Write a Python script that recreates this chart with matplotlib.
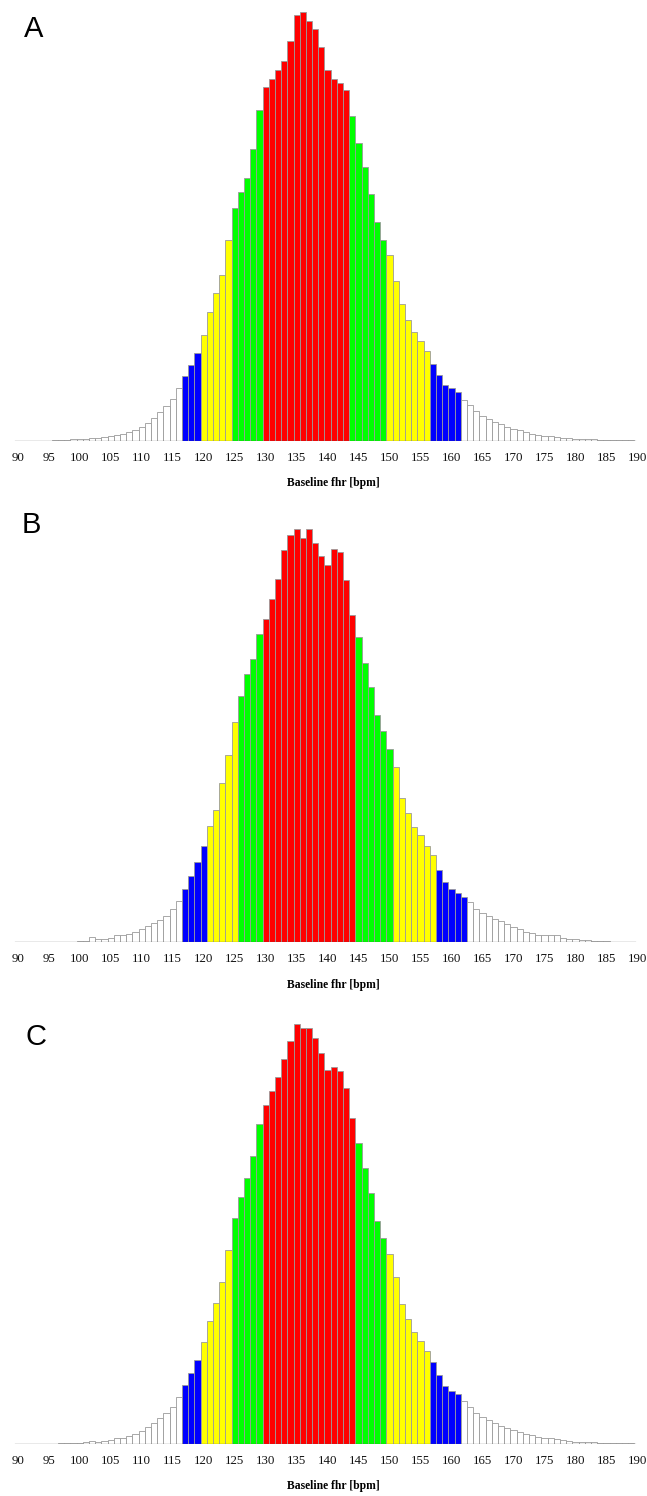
import numpy as np
import matplotlib
matplotlib.use("Agg")
import matplotlib.pyplot as plt

# baseline fhr classes 90..190 bpm
bpm = np.arange(90, 191)

# bar heights (arbitrary units)
freq_a = [0, 0, 0, 0, 0, 0, 1, 2, 3, 4,
          5, 6, 7, 9, 12, 14, 18, 21, 25, 32,
          40, 52, 67, 87, 105, 126, 157, 193, 226, 264,
          318, 386, 442, 496, 602, 697, 746, 789, 876, 992,
          1062, 1086, 1111, 1140, 1200, 1277, 1286, 1258, 1236, 1182,
          1113, 1084, 1072, 1052, 975, 894, 822, 741, 655, 602,
          558, 479, 409, 362, 325, 300, 269, 231, 197, 167,
          159, 145, 123, 106, 88, 74, 65, 56, 49, 42,
          36, 32, 25, 20, 17, 14, 13, 11, 9, 7,
          6, 6, 5, 4, 3, 3, 2, 2, 1, 1,
          0]
freq_b = [0, 0, 0, 0, 0, 1, 2, 2, 2, 2,
          3, 5, 16, 9, 10, 12, 21, 21, 24, 32,
          39, 49, 58, 67, 79, 99, 124, 161, 199, 240,
          288, 349, 396, 478, 561, 661, 738, 806, 850, 925,
          970, 1030, 1091, 1176, 1222, 1241, 1214, 1241, 1198, 1160,
          1131, 1181, 1170, 1087, 981, 915, 838, 767, 682, 635,
          579, 525, 434, 387, 345, 321, 289, 261, 217, 180,
          159, 149, 137, 122, 100, 87, 78, 70, 63, 54,
          47, 39, 32, 27, 22, 21, 21, 21, 12, 10,
          9, 7, 6, 5, 4, 3, 2, 2, 2, 1,
          0]
freq_c = [0, 0, 0, 0, 0, 0, 1, 2, 2, 3,
          4, 5, 10, 7, 10, 13, 19, 19, 25, 31,
          39, 51, 64, 77, 92, 111, 141, 177, 214, 252,
          305, 368, 422, 487, 582, 679, 742, 798, 865, 960,
          1018, 1060, 1101, 1156, 1210, 1260, 1249, 1249, 1218, 1172,
          1123, 1130, 1119, 1068, 978, 904, 829, 754, 668, 618,
          569, 502, 420, 375, 336, 310, 280, 246, 207, 174,
          159, 149, 129, 112, 93, 80, 71, 62, 55, 47,
          42, 37, 31, 27, 22, 19, 18, 16, 11, 8,
          7, 6, 5, 5, 4, 4, 3, 2, 2, 2,
          0]

# colour bands: (first bpm, last bpm, colour)
bands_a = [(117, 119, "blue"), (120, 124, "yellow"), (125, 129, "green"),
           (130, 143, "red"), (144, 149, "green"), (150, 156, "yellow"),
           (157, 161, "blue")]
bands_b = [(117, 120, "blue"), (121, 125, "yellow"), (126, 129, "green"),
           (130, 144, "red"), (145, 150, "green"), (151, 157, "yellow"),
           (158, 162, "blue")]
bands_c = [(117, 119, "blue"), (120, 124, "yellow"), (125, 129, "green"),
           (130, 144, "red"), (145, 149, "green"), (150, 156, "yellow"),
           (157, 161, "blue")]

panel_labels = ["A", "B", "C"]
tick_values = list(range(90, 191, 5))

palette = {"blue": "#0000ff", "yellow": "#ffff00", "green": "#00ff00",
           "red": "#ff0000"}

W, H = 647, 1496
fig = plt.figure(figsize=(W / 100, H / 100), dpi=100)

# (top px, baseline px, ylim top, letter x px, letter y px)
layout = [(0, 440.7, 1322, 34, 29),
          (500, 942.3, 1327, 31, 525),
          (1000, 1444, 1332, 36, 1037)]

for freq, bands, lab, (top, base, ytop, lx, ly) in zip(
        [freq_a, freq_b, freq_c], [bands_a, bands_b, bands_c],
        panel_labels, layout):
    ax = fig.add_axes([0, (H - base) / H, 1, (base - top) / H])
    colors = []
    for b in bpm:
        c = "white"
        for lo, hi, name in bands:
            if lo <= b <= hi:
                c = palette[name]
        colors.append(c)
    ax.bar(bpm, freq, width=1.0, color=colors, edgecolor="#9a9a9a",
           linewidth=0.6, zorder=2)
    ax.plot([89.5, 189.6], [0, 0], color="#555555", lw=0.9, zorder=3)
    ax.set_xlim(87.13, 191.55)
    ax.set_ylim(0, ytop)
    for s in ax.spines.values():
        s.set_visible(False)
    ax.set_yticks([])
    ax.set_xticks(tick_values)
    ax.set_xticklabels([str(t) for t in tick_values],
                       fontfamily="Liberation Serif", fontsize=9.3,
                       color="#111111")
    ax.tick_params(axis="x", length=0, pad=8)
    ax.annotate("Baseline fhr [bpm]", xy=(140.9, 0),
                xycoords=("data", "axes fraction"), xytext=(0, -30.5),
                textcoords="offset points", ha="center", va="center",
                fontfamily="Liberation Serif", fontweight="bold",
                fontsize=8.4, annotation_clip=False)
    fig.text(lx / W, 1 - ly / H, lab, ha="center", va="center",
             fontfamily="Liberation Sans", fontsize=21)

fig.savefig("out.png", dpi=100)
